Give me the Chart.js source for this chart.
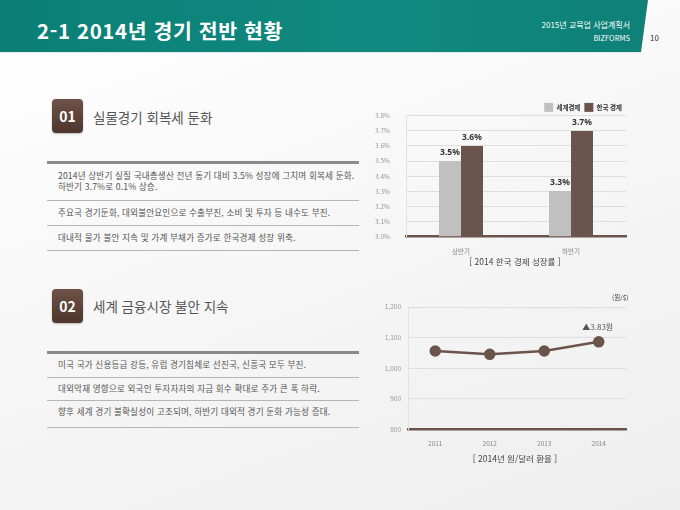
<!DOCTYPE html>
<html lang="ko">
<head>
<meta charset="utf-8">
<script src="https://cdn.jsdelivr.net/npm/chart.js@4.4.1/dist/chart.umd.min.js"></script>
<style>
  html, body { margin: 0; padding: 0; }
  body {
    width: 680px; height: 510px; position: relative; overflow: hidden;
    font-family: "Noto Sans CJK KR", "Noto Sans", sans-serif;
    background: linear-gradient(160deg, #ffffff 0%, #f7f7f7 45%, #eeeeee 100%);
  }
  .band {
    position: absolute; left: 0; top: 0; width: 648px; height: 52px;
    background: linear-gradient(90deg, #0b7f76 0%, #108a80 60%, #0e8077 100%);
    clip-path: polygon(0 0, 648px 0, 641px 52px, 0 52px);
  }
  .band-line { position: absolute; left: 0; top: 52px; width: 641px; height: 1px; background: #dfeeed; }
  .title { position: absolute; left: 37px; top: 15px; color: #fff; font-size: 20.5px; font-weight: 700; letter-spacing: 0.6px; }
  .sub { position: absolute; right: 50px; color: #fff; font-size: 7.5px; text-align: right; }
  .pageno { position: absolute; left: 650px; top: 32px; font-size: 8px; color: #333; }
  .box {
    position: absolute; width: 31px; height: 34px; border-radius: 4px;
    background: linear-gradient(180deg, #6e5247 0%, #4e362d 100%);
    color: #fff; font-size: 14px; font-weight: 700; text-align: center; line-height: 34px;
    box-shadow: 0 1px 2px rgba(0,0,0,0.25);
  }
  .head { position: absolute; left: 93px; font-size: 13.5px; color: #555; }
  .rule-thick { position: absolute; left: 47px; width: 312px; height: 3px; background: #8a8a8a; }
  .rule { position: absolute; left: 47px; width: 312px; height: 1px; background: #b5b5b5; }
  .txt { position: absolute; left: 58px; font-size: 8.6px; color: #555; line-height: 11px; white-space: nowrap; letter-spacing: 0.15px; }
  .cap { position: absolute; font-size: 8.5px; color: #444; text-align: center; }
  .unit { position: absolute; left: 612px; top: 292px; font-size: 6.5px; color: #333; }
  canvas { position: absolute; }
</style>
</head>
<body>
<div class="band"></div>
<div class="band-line"></div>
<div class="title">2-1 2014년 경기 전반 현황</div>
<div class="sub" style="top:19px; font-size:8px;">2015년 교육업 사업계획서</div>
<div class="sub" style="top:32px;">BIZFORMS</div>
<div class="pageno">10</div>

<div class="box" style="left:52px; top:99px;">01</div>
<div class="head" style="top:107px;">실물경기 회복세 둔화</div>
<div class="rule-thick" style="top:161px;"></div>
<div class="txt" style="top:170px;">2014년 상반기 실질 국내총생산 전년 동기 대비 3.5% 성장에 그치며 회복세 둔화.<br>하반기 3.7%로 0.1% 상승.</div>
<div class="rule" style="top:200px;"></div>
<div class="txt" style="top:207px;">주요국 경기둔화, 대외불안요인으로 수출부진, 소비 및 투자 등 내수도 부진.</div>
<div class="rule" style="top:225px;"></div>
<div class="txt" style="top:232px;">대내적 물가 불안 지속 및 가계 부채가 증가로 한국경제 성장 위축.</div>
<div class="rule" style="top:250px;"></div>

<div class="box" style="left:52px; top:289px;">02</div>
<div class="head" style="top:296px;">세계 금융시장 불안 지속</div>
<div class="rule-thick" style="top:351px;"></div>
<div class="txt" style="top:359px;">미국 국가 신용등급 강등, 유럽 경기침체로 선진국, 신흥국 모두 부진.</div>
<div class="rule" style="top:377px;"></div>
<div class="txt" style="top:383px;">대외악재 영향으로 외국인 투자자자의 자금 회수 확대로 주가 큰 폭 하락.</div>
<div class="rule" style="top:400px;"></div>
<div class="txt" style="top:406px;">향후 세계 경기 불확실성이 고조되며, 하반기 대외적 경기 둔화 가능성 증대.</div>
<div class="rule" style="top:427px;"></div>

<canvas id="barChart" style="left:370px; top:96px;" width="270" height="162"></canvas>
<div class="cap" style="left:420px; top:255px; width:190px;">[ 2014 한국 경제 성장률 ]</div>

<div class="unit">(원/$)</div>
<canvas id="lineChart" style="left:370px; top:295px;" width="270" height="154"></canvas>
<div class="cap" style="left:420px; top:452px; width:190px;">[ 2014년 원/달러 환율 ]</div>

<script>
// 성장률 데이터
let halves = ["상반기", "하반기"];
let worldGrowth = [3.5, 3.3];
let koreaGrowth = [3.6, 3.7];
let growthTicks = [3.0, 3.1, 3.2, 3.3, 3.4, 3.5, 3.6, 3.7, 3.8];

// 환율 데이터
let years = ["2011", "2012", "2013", "2014"];
let wonDollar = [1056, 1045, 1056, 1086];
let rateTicks = [800, 900, 1000, 1100, 1200];
let rateNote = "▲3.83원";

const brown = "#6b544b";
const gray = "#c0c0c0";
const tickFont = { family: "Noto Sans CJK KR", size: 6.5 };

// 범례 아래 여백 줄이기
const legendTight = {
  id: "legendTight",
  beforeInit(chart) {
    const fit = chart.legend.fit;
    chart.legend.fit = function () {
      fit.bind(chart.legend)();
      this.height -= 6;
    };
  }
};

// 막대 위 값 표시
const barLabels = {
  id: "barLabels",
  afterDatasetsDraw(chart) {
    const ctx = chart.ctx;
    ctx.save();
    ctx.font = "bold 8.5px 'Noto Sans', sans-serif";
    ctx.fillStyle = "#333";
    ctx.textAlign = "center";
    ctx.textBaseline = "bottom";
    chart.data.datasets.forEach((ds, i) => {
      chart.getDatasetMeta(i).data.forEach((bar, j) => {
        ctx.fillText(ds.data[j].toFixed(1) + "%", bar.x, bar.y - 4);
      });
    });
    ctx.restore();
  }
};

// 마지막 점 위 메모
const lineNote = {
  id: "lineNote",
  afterDatasetsDraw(chart) {
    const pts = chart.getDatasetMeta(0).data;
    const last = pts[pts.length - 1];
    const ctx = chart.ctx;
    ctx.save();
    ctx.font = "8px 'Noto Sans CJK KR', sans-serif";
    ctx.fillStyle = "#555";
    ctx.textAlign = "center";
    ctx.textBaseline = "middle";
    ctx.fillText(rateNote, last.x - 1, last.y - 15);
    ctx.restore();
  }
};

new Chart(document.getElementById("barChart"), {
  type: "bar",
  data: {
    labels: halves,
    datasets: [
      { label: "세계경제", data: worldGrowth, backgroundColor: gray, categoryPercentage: 0.4, barPercentage: 1.0 },
      { label: "한국 경제", data: koreaGrowth, backgroundColor: brown, categoryPercentage: 0.4, barPercentage: 1.0 }
    ]
  },
  options: {
    responsive: false,
    animation: false,
    layout: { padding: { left: 0, right: 14, top: 0, bottom: 0 } },
    plugins: {
      legend: {
        align: "end",
        labels: {
          boxWidth: 9, boxHeight: 9, padding: 4, color: "#333",
          font: { family: "Noto Sans CJK KR", size: 6.5, weight: "bold" }
        }
      },
      tooltip: { enabled: false }
    },
    scales: {
      x: {
        grid: { display: false },
        border: { color: brown, width: 2.5 },
        ticks: { color: "#888", font: tickFont, padding: 3 }
      },
      y: {
        min: 3.0, max: 3.8,
        afterFit(scale) { scale.width = 36; },
        afterBuildTicks(scale) { scale.ticks = growthTicks.map(v => ({ value: v })); },
        grid: { color: "#dedede", drawTicks: false },
        border: { color: "#e2e2e2" },
        ticks: { color: "#999", font: tickFont, padding: 16, callback: v => v.toFixed(1) + "%" }
      }
    }
  },
  plugins: [legendTight, barLabels]
});

new Chart(document.getElementById("lineChart"), {
  type: "line",
  data: {
    labels: years,
    datasets: [{
      data: wonDollar,
      borderColor: brown,
      backgroundColor: brown,
      borderWidth: 2.5,
      pointRadius: 4.5,
      pointBackgroundColor: brown,
      pointBorderColor: brown,
      tension: 0
    }]
  },
  options: {
    responsive: false,
    animation: false,
    layout: { padding: { left: 0, right: 14, top: 12, bottom: 0 } },
    plugins: { legend: { display: false }, tooltip: { enabled: false } },
    scales: {
      x: {
        offset: true,
        grid: { display: false, offset: true },
        border: { color: brown, width: 2.5 },
        ticks: { color: "#888", font: tickFont, padding: 2 }
      },
      y: {
        min: 800, max: 1200,
        afterFit(scale) { scale.width = 38; },
        afterBuildTicks(scale) { scale.ticks = rateTicks.map(v => ({ value: v })); },
        grid: { color: "#dedede", drawTicks: false },
        border: { color: "#e2e2e2" },
        ticks: { color: "#999", font: tickFont, padding: 7, callback: v => v.toLocaleString("en-US") }
      }
    }
  },
  plugins: [lineNote]
});
</script>
</body>
</html>
